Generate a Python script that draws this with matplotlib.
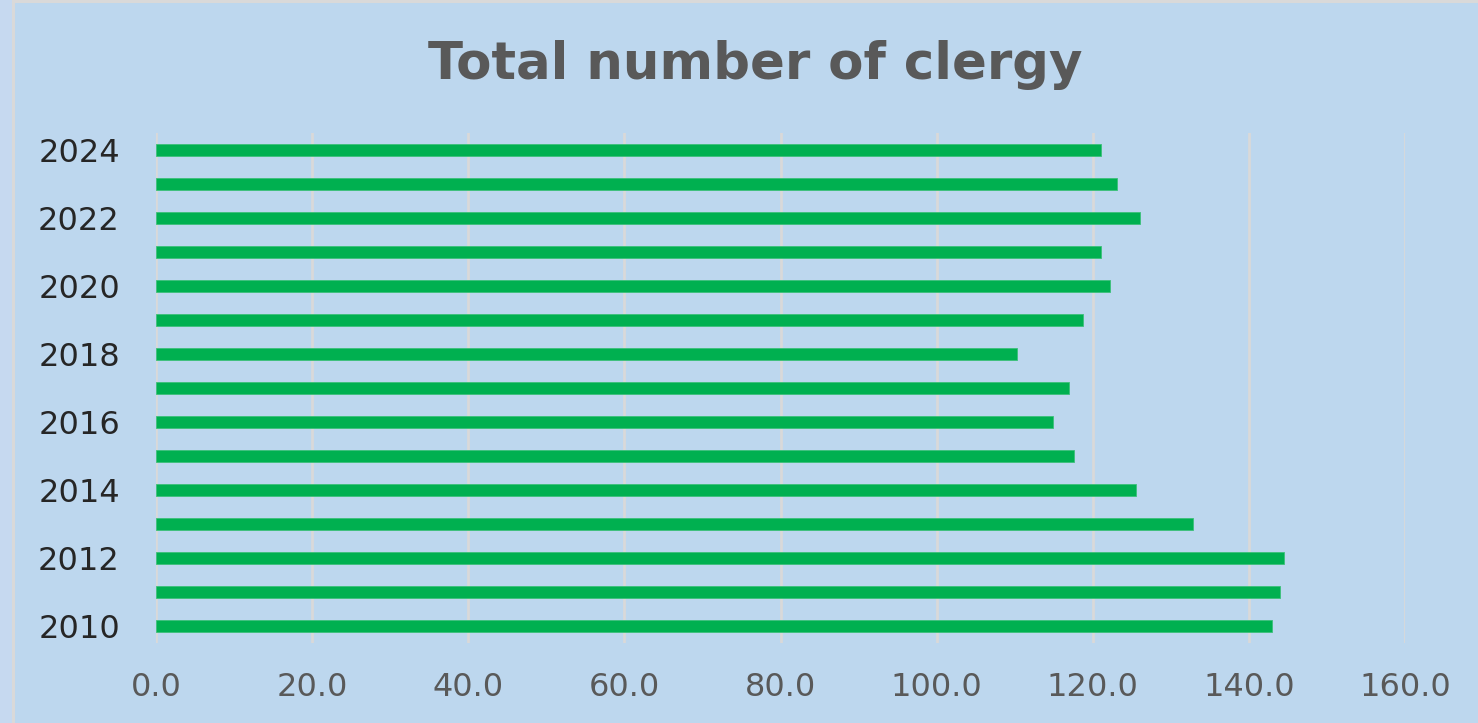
import matplotlib
matplotlib.use("Agg")
import matplotlib.pyplot as plt
from matplotlib.patches import Rectangle
from matplotlib.ticker import FormatStrFormatter

years = list(range(2010, 2025))
clergy = [142.9, 144.0, 144.5, 132.9, 125.5, 117.6, 114.9, 116.9,
          110.3, 118.7, 122.2, 121.1, 126.1, 123.1, 121.1]
year_labels = [str(y) if y % 2 == 0 else "" for y in years]
x_ticks = [0, 20, 40, 60, 80, 100, 120, 140, 160]

bg = "#BDD7EE"
plt.rcParams['font.family'] = ['DejaVu Sans']

fig = plt.figure(figsize=(14.78, 7.23), dpi=100, facecolor=bg)
# left strip and chart border
fig.patches.append(Rectangle((0, 0), 13 / 1478, 1, transform=fig.transFigure,
                             facecolor="#C6D9F0", edgecolor="none", zorder=0))
fig.patches.append(Rectangle((13 / 1478, -0.05), 1.0, 1 - 1.5 / 723 + 0.05,
                             transform=fig.transFigure, facecolor="none",
                             edgecolor="#D9D9D9", linewidth=2.2, zorder=1))

ax = fig.add_axes([156 / 1478, 1 - 643 / 723, (1405 - 156) / 1478, (643 - 133) / 723])
ax.set_facecolor(bg)

pos = range(len(years))
ax.barh(pos, clergy, height=0.36, color="#00B050", edgecolor="#3CC07A",
        linewidth=0.6, zorder=3)

ax.set_xlim(0, 160)
ax.set_ylim(-0.5, len(years) - 0.5)
ax.set_xticks(x_ticks)
ax.xaxis.set_major_formatter(FormatStrFormatter("%.1f"))
ax.set_yticks(list(pos))
ax.set_yticklabels(year_labels)

ax.grid(axis="x", color="#D9D9D9", linewidth=2, zorder=0)
ax.grid(axis="y", visible=False)
for s in ax.spines.values():
    s.set_visible(False)
ax.tick_params(axis="x", length=0, pad=21, labelsize=23, labelcolor="#595959")
ax.tick_params(axis="y", length=0, pad=26, labelsize=23, labelcolor="#262626")

fig.text(755 / 1478, 1 - 79 / 723, "Total number of clergy", ha="center", va="baseline",
         fontsize=37, fontweight="bold", color="#595959")

fig.savefig("out.png", dpi=100, facecolor=bg)
